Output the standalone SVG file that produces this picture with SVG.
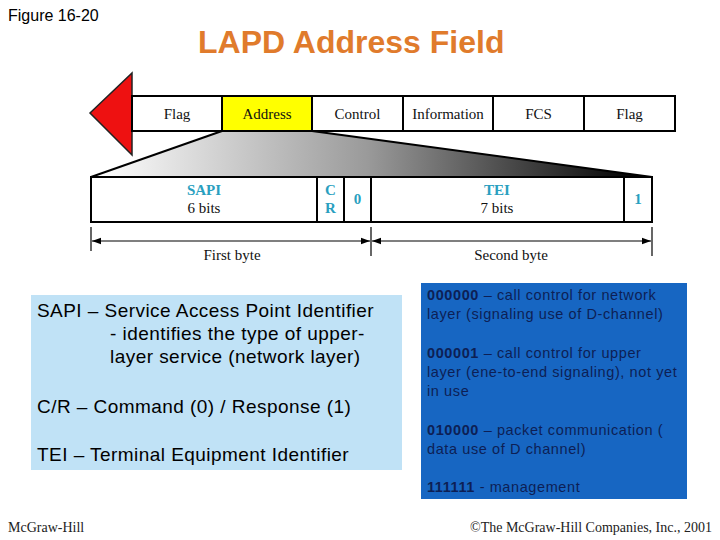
<svg xmlns="http://www.w3.org/2000/svg" width="720" height="540" viewBox="0 0 720 540">
  <defs>
    <linearGradient id="fan" gradientUnits="userSpaceOnUse" x1="95" y1="0" x2="640" y2="0">
      <stop offset="0" stop-color="#ffffff"/>
      <stop offset="0.5" stop-color="#9a9a9a"/>
      <stop offset="1" stop-color="#000000"/>
    </linearGradient>
    <marker id="ah" viewBox="0 0 10 10" refX="10" refY="5" markerWidth="9" markerHeight="9" markerUnits="userSpaceOnUse" orient="auto-start-reverse">
      <path d="M0,1.5 L10,5 L0,8.5 Z" fill="#000"/>
    </marker>
    <style>
      .frm { fill: #ffffff; stroke: #000; stroke-width: 2; }
      .ser { font-family: "Liberation Serif", "Times New Roman", serif; font-size: 15px; fill: #111; text-anchor: middle; }
      .teal { font-family: "Liberation Serif", "Times New Roman", serif; font-size: 15px; font-weight: bold; fill: #2a9fc0; text-anchor: middle; }
      .lt { font-family: "Liberation Sans", Arial, sans-serif; font-size: 19px; fill: #000; letter-spacing: 0.45px; }
      .dk { font-family: "Liberation Sans", Arial, sans-serif; font-size: 14.5px; fill: #0d1f55; letter-spacing: 0.6px; }
      .dk tspan.b { font-weight: bold; }
      .ft { font-family: "Liberation Serif", "Times New Roman", serif; font-size: 14px; fill: #222; }
    </style>
  </defs>

  <rect width="720" height="540" fill="#ffffff"/>

  <g id="header">
    <text x="8" y="21" font-family="Liberation Sans, Arial, sans-serif" font-size="16" fill="#000">Figure 16-20</text>
    <text x="198" y="53" font-family="Liberation Sans, Arial, sans-serif" font-size="32" font-weight="bold" fill="#e07b2c">LAPD Address Field</text>
  </g>

  <g id="zoom-fan">
    <polygon points="91,177 222,131 312,131 652,177" fill="url(#fan)"/>
    <line x1="91" y1="177" x2="222" y2="131" stroke="#000" stroke-width="2"/>
    <line x1="312" y1="131" x2="652" y2="177" stroke="#000" stroke-width="2"/>
  </g>

  <g id="frame">
    <polygon points="90,113 132,73 132,155" fill="#ee1111" stroke="#222" stroke-width="1.5"/>
    <g id="f-flag1"><rect class="frm" x="132" y="96" width="90" height="35"/><text class="ser" x="177" y="119">Flag</text></g>
    <g id="f-address"><rect class="frm" x="222" y="96" width="90" height="35" style="fill:#ffff00"/><text class="ser" x="267" y="119">Address</text></g>
    <g id="f-control"><rect class="frm" x="312" y="96" width="91" height="35"/><text class="ser" x="357.5" y="119">Control</text></g>
    <g id="f-info"><rect class="frm" x="403" y="96" width="90" height="35"/><text class="ser" x="448" y="119">Information</text></g>
    <g id="f-fcs"><rect class="frm" x="493" y="96" width="91" height="35"/><text class="ser" x="538.5" y="119">FCS</text></g>
    <g id="f-flag2"><rect class="frm" x="584" y="96" width="91" height="35"/><text class="ser" x="629.5" y="119">Flag</text></g>
  </g>

  <g id="address-field">
    <rect class="frm" x="91" y="177" width="561" height="45"/>
    <line x1="317" y1="177" x2="317" y2="222" stroke="#000" stroke-width="2"/>
    <line x1="344" y1="177" x2="344" y2="222" stroke="#000" stroke-width="2"/>
    <line x1="371" y1="177" x2="371" y2="222" stroke="#000" stroke-width="2"/>
    <line x1="624" y1="177" x2="624" y2="222" stroke="#000" stroke-width="2"/>
    <g id="a-sapi"><text class="teal" x="204" y="195">SAPI</text><text class="ser" x="204" y="213">6 bits</text></g>
    <g id="a-cr"><text class="teal" x="330.5" y="195">C</text><text class="teal" x="330.5" y="213">R</text></g>
    <g id="a-ea0"><text class="teal" x="357.5" y="204">0</text></g>
    <g id="a-tei"><text class="teal" x="497" y="195">TEI</text><text class="ser" x="497" y="213">7 bits</text></g>
    <g id="a-ea1"><text class="teal" x="638" y="204">1</text></g>
  </g>

  <g id="connectors" stroke="#000" stroke-width="1.2" fill="none">
    <line x1="91" y1="227" x2="91" y2="251"/>
    <line x1="371" y1="227" x2="371" y2="256"/>
    <line x1="652" y1="227" x2="652" y2="256"/>
    <line x1="92" y1="241" x2="370" y2="241" marker-start="url(#ah)" marker-end="url(#ah)"/>
    <line x1="372" y1="241" x2="651" y2="241" marker-start="url(#ah)" marker-end="url(#ah)"/>
  </g>
  <g id="byte-labels">
    <text class="ser" x="232" y="260">First byte</text>
    <text class="ser" x="511" y="260">Second byte</text>
  </g>

  <g id="legend-left">
    <rect x="31" y="295" width="371" height="175" fill="#c0e2f6"/>
    <text class="lt" x="37" y="317">SAPI – Service Access Point Identifier</text>
    <text class="lt" x="110" y="340">- identifies the type of upper-</text>
    <text class="lt" x="110" y="363">layer service (network layer)</text>
    <text class="lt" x="37" y="413">C/R – Command (0) / Response (1)</text>
    <text class="lt" x="37" y="461">TEI – Terminal Equipment Identifier</text>
  </g>

  <g id="legend-right">
    <rect x="421" y="283" width="266" height="216" fill="#1766c2"/>
    <text class="dk" x="427" y="300"><tspan class="b">000000</tspan> – call control for network</text>
    <text class="dk" x="427" y="319">layer (signaling use of D-channel)</text>
    <text class="dk" x="427" y="358"><tspan class="b">000001</tspan> – call control for upper</text>
    <text class="dk" x="427" y="377">layer (ene-to-end signaling), not yet</text>
    <text class="dk" x="427" y="396">in use</text>
    <text class="dk" x="427" y="435"><tspan class="b">010000</tspan> – packet communication (</text>
    <text class="dk" x="427" y="454">data use of D channel)</text>
    <text class="dk" x="427" y="492"><tspan class="b">111111</tspan> - management</text>
  </g>

  <g id="footer">
    <text class="ft" x="8" y="532">McGraw-Hill</text>
    <text class="ft" x="712" y="532" text-anchor="end">©The McGraw-Hill Companies, Inc., 2001</text>
  </g>
</svg>
